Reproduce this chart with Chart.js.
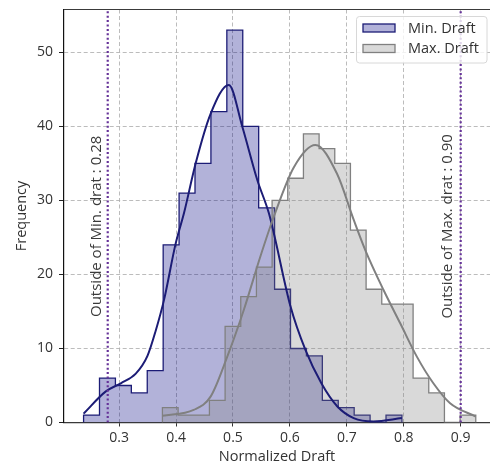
<!DOCTYPE html>
<html>
<head>
<meta charset="utf-8">
<script src="https://cdn.jsdelivr.net/npm/chart.js@4.4.0/dist/chart.umd.min.js"></script>
<style>
  html, body { margin: 0; padding: 0; background: #fff; }
  #wrap { width: 490px; height: 466px; }
</style>
</head>
<body>
<div id="wrap"><canvas id="draftChart"></canvas></div>
<script>
// histogram bins (normalized draft) and counts
const minBinStart = 0.2376;
const minBinWidth = 0.02796;
const minCounts = [1, 6, 5, 4, 7, 24, 31, 35, 42, 53, 40, 29, 18, 10, 9, 3, 2, 1, 0, 1];

const maxBinStart = 0.3761;
const maxBinWidth = 0.02752;
const maxCounts = [2, 1, 1, 3, 13, 17, 21, 30, 33, 39, 37, 35, 26, 18, 16, 16, 6, 4, 0, 1];

// kde curves, in counts
const minKdeX = [0.2376, 0.2767, 0.303, 0.3293, 0.3498, 0.3643, 0.379, 0.3994, 0.414, 0.4344, 0.4607, 0.4928, 0.5163, 0.5426, 0.563, 0.5717, 0.601, 0.6273, 0.6553, 0.683, 0.712, 0.747, 0.7967];
const minKdeY = [1.2, 4.2, 5.3, 6.6, 9.0, 12.4, 16.6, 24.2, 28.3, 35.0, 41.7, 45.6, 40.0, 32.8, 28.3, 25.6, 15.7, 9.8, 5.3, 2.2, 0.6, 0.15, 0.6];
const maxKdeX = [0.3761, 0.431, 0.4607, 0.49, 0.519, 0.548, 0.5717, 0.607, 0.6448, 0.6828, 0.712, 0.7324, 0.7645, 0.7938, 0.823, 0.852, 0.8814, 0.9265];
const maxKdeY = [0.9, 1.7, 3.5, 8.9, 15.2, 22.4, 27.8, 34.5, 37.5, 33.6, 27.4, 23.3, 17.9, 13.4, 8.9, 5.3, 2.6, 0.8];

// limit lines
const limitValues = [0.28, 0.90];
const limitLabels = ['Outside of Min. drat : 0.28', 'Outside of Max. drat : 0.90'];

const seriesNames = ['Min. Draft', 'Max. Draft'];
const xTickValues = [0.3, 0.4, 0.5, 0.6, 0.7, 0.8, 0.9];
const yTickValues = [0, 10, 20, 30, 40, 50];

const X_MIN = 0.2032, X_MAX = 0.9515, Y_MAX = 55.8;

const NAVY = 'rgb(28,28,118)';
const NAVY_FILL = 'rgba(0,0,128,0.3)';
const GRAY = 'rgb(128,128,128)';
const GRAY_FILL = 'rgba(128,128,128,0.3)';
const LIMIT = '#663399';
const TXT = '#333';
const FONT = "'Open Sans', sans-serif";

Chart.defaults.font.family = FONT;
Chart.defaults.font.size = 14;
Chart.defaults.color = TXT;

// outline of a step histogram
function stepPoints(start, width, counts) {
  const pts = [{x: start, y: 0}];
  counts.forEach((c, i) => pts.push({x: start + i * width, y: c}));
  const end = start + counts.length * width;
  pts.push({x: end, y: counts[counts.length - 1]});
  pts.push({x: end, y: 0});
  return pts;
}
const zip = (xs, ys) => xs.map((x, i) => ({x: x, y: ys[i]}));

const decor = {
  id: 'decor',
  afterDatasetsDraw(chart) {
    const {ctx, chartArea, scales} = chart;
    ctx.save();
    // top spine
    ctx.strokeStyle = '#3a3a3a';
    ctx.lineWidth = 1.2;
    ctx.beginPath();
    ctx.moveTo(chartArea.left, chartArea.top);
    ctx.lineTo(chartArea.right, chartArea.top);
    ctx.stroke();

    // rotated labels next to limit lines
    const offsets = [-10.5, -13];
    ctx.fillStyle = '#3a3a3a';
    ctx.font = '15px ' + FONT;
    ctx.textAlign = 'center';
    ctx.textBaseline = 'middle';
    limitValues.forEach((v, i) => {
      const x = scales.x.getPixelForValue(v) + offsets[i];
      const y = scales.y.getPixelForValue(26.5);
      ctx.save();
      ctx.translate(x, y);
      ctx.rotate(-Math.PI / 2);
      ctx.fillText(limitLabels[i], 0, 0);
      ctx.restore();
    });

    // legend
    const bx = 356.5, by = 16.5, bw = 130.5, bh = 46.5;
    ctx.fillStyle = 'rgba(255,255,255,0.8)';
    ctx.strokeStyle = '#d8d8d8';
    ctx.lineWidth = 1;
    ctx.beginPath();
    ctx.roundRect(bx, by, bw, bh, 3);
    ctx.fill();
    ctx.stroke();
    const fills = [NAVY_FILL, GRAY_FILL], edges = [NAVY, GRAY];
    ctx.font = '14.5px ' + FONT;
    seriesNames.forEach((name, i) => {
      const cy = 28 + i * 20.5;
      ctx.fillStyle = fills[i];
      ctx.fillRect(363, cy - 4, 32, 8);
      ctx.strokeStyle = edges[i];
      ctx.lineWidth = 1.3;
      ctx.strokeRect(363, cy - 4, 32, 8);
      ctx.fillStyle = TXT;
      ctx.textAlign = 'left';
      ctx.textBaseline = 'middle';
      ctx.fillText(name, 408, cy + 0.5);
    });
    ctx.restore();
  }
};

new Chart(document.getElementById('draftChart'), {
  type: 'line',
  data: {
    datasets: [
      {
        label: seriesNames[0],
        data: stepPoints(minBinStart, minBinWidth, minCounts),
        stepped: 'before',
        fill: 'origin',
        backgroundColor: NAVY_FILL,
        borderColor: NAVY,
        borderWidth: 1.3,
        pointRadius: 0,
        order: 6
      },
      {
        label: seriesNames[1],
        data: stepPoints(maxBinStart, maxBinWidth, maxCounts),
        stepped: 'before',
        fill: 'origin',
        backgroundColor: GRAY_FILL,
        borderColor: GRAY,
        borderWidth: 1.3,
        pointRadius: 0,
        order: 5
      },
      {
        label: 'min kde',
        data: zip(minKdeX, minKdeY),
        cubicInterpolationMode: 'monotone',
        borderColor: NAVY,
        borderWidth: 2,
        pointRadius: 0,
        fill: false,
        order: 4
      },
      {
        label: 'max kde',
        data: zip(maxKdeX, maxKdeY),
        cubicInterpolationMode: 'monotone',
        borderColor: GRAY,
        borderWidth: 2,
        pointRadius: 0,
        fill: false,
        order: 3
      },
      ...limitValues.map(v => ({
        label: 'limit ' + v,
        data: [{x: v, y: 0}, {x: v, y: Y_MAX}],
        borderColor: LIMIT,
        borderWidth: 2.2,
        borderDash: [2, 2.4],
        pointRadius: 0,
        fill: false,
        order: 2
      }))
    ]
  },
  options: {
    responsive: true,
    maintainAspectRatio: false,
    animation: false,
    layout: { padding: { top: 9.5, right: 0, bottom: 0, left: 0 } },
    plugins: { legend: { display: false }, tooltip: { enabled: false } },
    scales: {
      x: {
        type: 'linear',
        min: X_MIN,
        max: X_MAX,
        afterBuildTicks: s => { s.ticks = xTickValues.map(v => ({value: v})); },
        afterFit: s => { s.height = 43.5; s.paddingLeft = 0; s.paddingRight = 0; },
        ticks: { callback: v => v.toFixed(1), padding: 3, color: TXT, maxRotation: 0 },
        grid: { color: 'rgba(176,176,176,0.85)', lineWidth: 1, tickLength: 4, tickColor: '#333', tickBorderDash: [] },
        border: { display: true, color: '#3a3a3a', width: 1.2, dash: [4, 2.5] },
        title: { display: true, text: 'Normalized Draft', font: { size: 14.5 }, padding: { top: 0, bottom: 0 }, color: TXT }
      },
      y: {
        min: 0,
        max: Y_MAX,
        afterBuildTicks: s => { s.ticks = yTickValues.map(v => ({value: v})); },
        afterFit: s => { s.width = 64; s.paddingTop = 0; s.paddingBottom = 0; },
        ticks: { callback: v => String(v), padding: 6, color: TXT },
        grid: { color: 'rgba(176,176,176,0.85)', lineWidth: 1, tickLength: 5, tickColor: '#222', tickBorderDash: [] },
        border: { display: true, color: '#111', width: 1.2, dash: [4, 2.5] },
        title: { display: true, text: 'Frequency', font: { size: 14.5 }, padding: { top: 13.3, bottom: 0 }, color: TXT }
      }
    }
  },
  plugins: [decor]
});
</script>
</body>
</html>
